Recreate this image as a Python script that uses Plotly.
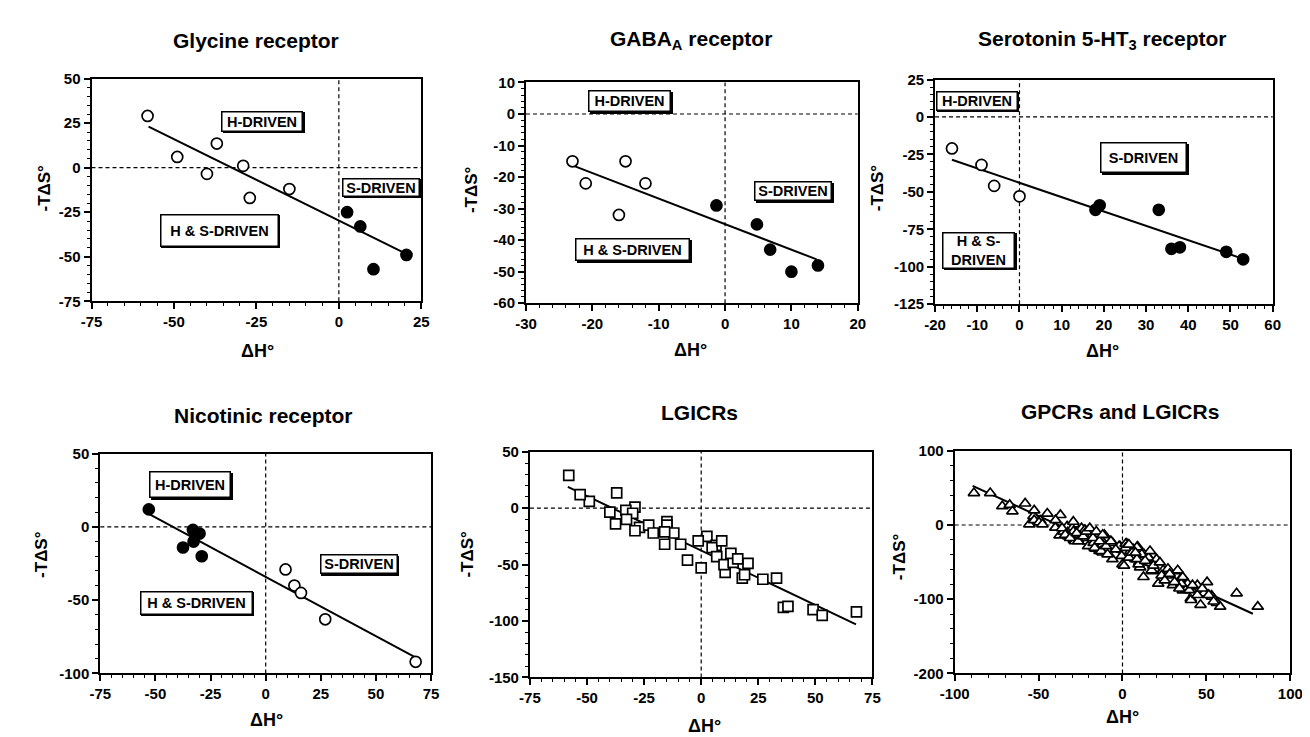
import plotly.graph_objects as go

# ---------------- data ----------------
# Glycine receptor
gly_open_x = [-58, -49, -40, -37, -29, -27, -15]
gly_open_y = [29, 6, -3.5, 13.5, 1, -17, -12]
gly_fill_x = [2.5, 6.5, 10.5, 20.5]
gly_fill_y = [-25, -33, -57, -49]
gly_fit_x = [-57.7, 20.6]
gly_fit_y = [23, -48.5]

# GABA_A receptor
gaba_open_x = [-23, -21, -16, -15, -12]
gaba_open_y = [-15, -22, -32, -15, -22]
gaba_fill_x = [-1.3, 4.8, 6.8, 10, 14]
gaba_fill_y = [-29, -35, -43, -50, -48]
gaba_fit_x = [-23, 13.8]
gaba_fit_y = [-16.3, -46.1]

# Serotonin 5-HT3 receptor
ht3_open_x = [-16, -9, -6, 0]
ht3_open_y = [-21, -32, -46, -53]
ht3_fill_x = [18, 19, 33, 36, 38, 49, 53]
ht3_fill_y = [-62, -59, -62, -88, -87, -90, -95]
ht3_fit_x = [-16, 53]
ht3_fit_y = [-28.6, -94.7]

# Nicotinic receptor
nic_fill_x = [-53, -37.5, -33, -30, -32.7, -29]
nic_fill_y = [12, -14, -2, -4.5, -10, -20]
nic_open_x = [9, 13, 16, 27, 68]
nic_open_y = [-29, -40, -45, -63, -92]
nic_fit_x = [-53, 67.7]
nic_fit_y = [8.9, -88.9]

# LGICRs (all four receptor sets)
lgic_x = gly_open_x + gly_fill_x + gaba_open_x + gaba_fill_x + ht3_open_x + ht3_fill_x + nic_fill_x + nic_open_x
lgic_y = gly_open_y + gly_fill_y + gaba_open_y + gaba_fill_y + ht3_open_y + ht3_fill_y + nic_fill_y + nic_open_y
lgic_fit_x = [-58.4, 67.8]
lgic_fit_y = [18.8, -103]

# GPCRs (additional points in last panel)
gpcr_x = [-88.5, -78.8, -71.6, -67.2, -65.6, -52.6, -55.5, -52.6, -49.7, -47.7, -44.8, -35.1, -32.2,
          -29.3, -28.3, -25.4, -24.4, -22.4, -21.5, -20.5, -18.5, -17.2, -13.7, -11.8, -10.8, -8.9,
          -5.9, -2.0, 0.9, 1.9, 4.8, 7.7, 5.7, 8.6, 9.6, 11.5, 12.5, 15.5, 17.4, 20.3, 21.3, 24.2,
          26.1, 27.1, 30.0, 32.9, 34.9, 38.8, 40.7, 42.7, 44.6, 46.5, 48.5, 50.4, 53.4, 56.3, 58.2,
          80.6, -11.8, 23.3, 35.0, 40.8,
          -39.9, -36.0, -34.1, -31.2, -29.3, -27.3, -26.4, -23.4, -21.5, -19.5, -17.6, -16.6, -15.6,
          -13.7, -12.7, -11.8, -9.8, -8.9, -6.9, -4.0, -0.5, 1.9, 3.8, 5.7, 8.6,
          3.8, 7.7, 13.5, 16.4, 18.4, 22.3, 25.2, 28.1, 31.0, 33.9, 35.9, 39.8, 41.7, 44.6, 47.5,
          51.4, 54.3]
gpcr_y = [43, 43, 25.4, 27, 18.4, 19.7, 0.9, 6.6, 3.5, 0.9, 15.4, -8.8, -15.4,
          -8.8, -21.9, -13.2, -4.4, -6.6, -17.5, -28.5, -8.8, -24.1, -35, -26.3, -13.2, -32.9,
          -24.1, -28.5, -54.8, -25.4, -41.7, -46, -44, -30, -53, -39.5, -70, -44, -61, -46, -79, -61,
          -68, -59, -81, -61, -72, -79, -99, -92, -81, -107.5, -92, -77, -96.5, -105, -110,
          -110, -37, -68, -79, -101,
          6.6, -4.4, -13.2, -17.5, 4.4, -11, -21.9, -15.4, -8.8, -4.4, -17.5, -30.7, -8.8,
          -21.9, -35.1, -13.2, -28.5, -39.5, -21.9, -32.9, -41.7, -30.7, -43.9, -37.3, -46,
          -26.3, -37.3, -48.2, -35.1, -54.8, -50.4, -74.6, -65.8, -76.8, -85.5, -70.2, -87.7, -81.1, -94.3, -85.5,
          -94.3, -103]
all_x = lgic_x + gpcr_x
all_y = lgic_y + gpcr_y
all_fit_x = [-89.3, 77.7]
all_fit_y = [52.7, -119.5]

# tick labels
gly_xt = [-75, -50, -25, 0, 25];  gly_yt = [-75, -50, -25, 0, 25, 50]
gaba_xt = [-30, -20, -10, 0, 10, 20];  gaba_yt = [-60, -50, -40, -30, -20, -10, 0, 10]
ht3_xt = [-20, -10, 0, 10, 20, 30, 40, 50, 60];  ht3_yt = [-125, -100, -75, -50, -25, 0, 25]
nic_xt = [-75, -50, -25, 0, 25, 50, 75];  nic_yt = [-100, -50, 0, 50]
lgic_xt = [-75, -50, -25, 0, 25, 50, 75];  lgic_yt = [-150, -100, -50, 0, 50]
all_xt = [-100, -50, 0, 50, 100];  all_yt = [-200, -100, 0, 100]

titles = ["Glycine receptor", "GABA<sub>A</sub> receptor", "Serotonin 5-HT<sub>3</sub> receptor",
          "Nicotinic receptor", "LGICRs", "GPCRs and LGICRs"]
x_title = "ΔH°"
y_title = "-TΔS°"

# ---------------- layout helpers ----------------
W, H = 1310, 737
F = "Liberation Sans, Arial, sans-serif"

def px(x):
    return x / W

def py(y):
    return 1 - y / H

def xr(i):
    return "x" if i == 1 else f"x{i}"

def yr(i):
    return "y" if i == 1 else f"y{i}"

# frame boxes in pixels: (left, top, right, bottom)
frames = [(70, 63, 407, 291), (514, 67, 853, 293), (932, 64, 1277, 294),
          (79, 447, 417, 672), (518, 445, 868, 676), (952, 444, 1295, 672)]
xranges = [[-75, 25], [-30, 20], [-20, 60], [-75, 75], [-75, 75], [-100, 100]]
yranges = [[-75, 50], [-60, 10], [-125, 25], [-100, 50], [-150, 50], [-200, 100]]
xticks = [gly_xt, gaba_xt, ht3_xt, nic_xt, lgic_xt, all_xt]
yticks = [gly_yt, gaba_yt, ht3_yt, nic_yt, lgic_yt, all_yt]
xminor = [5, 2, 2, 5, 5, 10]
yminor = [5, 2, 5, 10, 10, 20]
title_pos = [(238, 24), (683, 24), (1103, 24), (246, 408), (691, 405), (1121, 404)]
xtitle_pos = [(240, 342), (682, 341), (1103, 342), (249, 720), (696, 726), (1124, 717)]
ytitle_pos = [(22, 175), (459, 177), (874, 175), (19, 550), (454, 550), (895, 552)]

fig = go.Figure()

def add_line(i, xs, ys):
    fig.add_trace(go.Scatter(x=xs, y=ys, mode="lines", line=dict(color="black", width=2),
                             xaxis=xr(i), yaxis=yr(i), showlegend=False, hoverinfo="skip"))

def add_pts(i, xs, ys, symbol, fill, size=10):
    fig.add_trace(go.Scatter(x=xs, y=ys, mode="markers",
                             marker=dict(symbol=symbol, size=size, color=fill,
                                         line=dict(color="black", width=1.7)),
                             xaxis=xr(i), yaxis=yr(i), showlegend=False))

add_line(1, gly_fit_x, gly_fit_y)
add_pts(1, gly_open_x, gly_open_y, "circle", "white", 11)
add_pts(1, gly_fill_x, gly_fill_y, "circle", "black", 11)

add_line(2, gaba_fit_x, gaba_fit_y)
add_pts(2, gaba_open_x, gaba_open_y, "circle", "white", 11)
add_pts(2, gaba_fill_x, gaba_fill_y, "circle", "black", 11)

add_line(3, ht3_fit_x, ht3_fit_y)
add_pts(3, ht3_open_x, ht3_open_y, "circle", "white", 11)
add_pts(3, ht3_fill_x, ht3_fill_y, "circle", "black", 11)

add_line(4, nic_fit_x, nic_fit_y)
add_pts(4, nic_fill_x, nic_fill_y, "circle", "black", 11)
add_pts(4, nic_open_x, nic_open_y, "circle", "white", 11)

add_line(5, lgic_fit_x, lgic_fit_y)
add_pts(5, lgic_x, lgic_y, "square", "white", 10)

add_line(6, all_fit_x, all_fit_y)
add_pts(6, all_x, all_y, "triangle-up", "white", 10)

layout = dict(width=W, height=H, margin=dict(l=0, r=0, t=0, b=0),
              paper_bgcolor="white", plot_bgcolor="white", showlegend=False,
              font=dict(family=F, color="black"))
shapes = []
annotations = []
tfont = dict(family=F, size=15, color="black", weight="bold")
for k in range(6):
    i = k + 1
    l, t, r, b = frames[k]
    ax = dict(domain=[px(l), px(r)], range=xranges[k], anchor=yr(i),
              tickmode="array", tickvals=xticks[k], ticktext=[str(v) for v in xticks[k]],
              ticks="outside", ticklen=6, tickwidth=1.6, tickcolor="black",
              showline=True, linecolor="black", linewidth=2, mirror=True,
              showgrid=False, zeroline=False, tickfont=tfont,
              minor=dict(tick0=xranges[k][0], dtick=xminor[k], ticks="outside", ticklen=3,
                         tickwidth=1.3, tickcolor="black", showgrid=False))
    ay = dict(domain=[py(b), py(t)], range=yranges[k], anchor=xr(i),
              tickmode="array", tickvals=yticks[k], ticktext=[str(v) for v in yticks[k]],
              ticks="outside", ticklen=6, tickwidth=1.6, tickcolor="black",
              showline=True, linecolor="black", linewidth=2, mirror=True,
              showgrid=False, zeroline=False, tickfont=tfont,
              minor=dict(tick0=yranges[k][0], dtick=yminor[k], ticks="outside", ticklen=3,
                         tickwidth=1.3, tickcolor="black", showgrid=False))
    layout["xaxis" if i == 1 else f"xaxis{i}"] = ax
    layout["yaxis" if i == 1 else f"yaxis{i}"] = ay
    # dashed zero lines
    shapes.append(dict(type="line", xref=xr(i), yref=yr(i) + " domain", x0=0, x1=0, y0=0, y1=1,
                       line=dict(color="black", width=1.2, dash="4px,3px"), layer="below"))
    shapes.append(dict(type="line", xref=xr(i) + " domain", yref=yr(i), x0=0, x1=1, y0=0, y1=0,
                       line=dict(color="black", width=1.2, dash="4px,3px"), layer="below"))
    tx, ty = title_pos[k]
    annotations.append(dict(text=f"<b>{titles[k]}</b>", x=px(tx), y=py(ty), xref="paper", yref="paper",
                            showarrow=False, font=dict(family=F, size=21, color="black"),
                            xanchor="center", yanchor="middle"))
    tx, ty = xtitle_pos[k]
    annotations.append(dict(text=f"<b>{x_title}</b>", x=px(tx), y=py(ty), xref="paper", yref="paper",
                            showarrow=False, font=dict(family=F, size=18, color="black"),
                            xanchor="center", yanchor="middle"))
    tx, ty = ytitle_pos[k]
    annotations.append(dict(text=f"<b>{y_title}</b>", x=px(tx), y=py(ty), xref="paper", yref="paper",
                            showarrow=False, font=dict(family=F, size=17, color="black"),
                            textangle=-90, xanchor="center", yanchor="middle"))

# region label boxes: (panel, text, x, y, width, height)
boxes = [
    (1, "H-DRIVEN", -23.3, 26, 82, 21), (1, "H & S-DRIVEN", -36.2, -35.2, 119, 33),
    (1, "S-DRIVEN", 12.9, -10.9, 78, 19),
    (2, "H-DRIVEN", -14.4, 4.1, 83, 22), (2, "S-DRIVEN", 10.3, -24.5, 78, 20),
    (2, "H & S-DRIVEN", -13.9, -43, 115, 23),
    (3, "H-DRIVEN", -10.1, 10.8, 82, 20), (3, "S-DRIVEN", 29.5, -27.1, 87, 31),
    (3, "H & S-<br>DRIVEN", -9.7, -88.9, 73, 37),
    (4, "H-DRIVEN", -34.2, 28.9, 82, 27), (4, "S-DRIVEN", 42.2, -25.6, 78, 20),
    (4, "H & S-DRIVEN", -31.5, -51.6, 113, 24),
]
for (i, txt, x, y, w, h) in boxes:
    # drop shadow
    annotations.append(dict(text=f"<b>{txt}</b>", x=x, y=y, xref=xr(i), yref=yr(i),
                            showarrow=False, font=dict(family=F, size=14.5, color="black"),
                            bgcolor="black", bordercolor="black", borderwidth=1.5, borderpad=1,
                            width=w - 5, height=h - 5, xshift=1.5, yshift=-1.5,
                            align="center", valign="middle"))
    annotations.append(dict(text=f"<b>{txt}</b>", x=x, y=y, xref=xr(i), yref=yr(i),
                            showarrow=False, font=dict(family=F, size=14.5, color="black"),
                            bgcolor="white", bordercolor="black", borderwidth=1.5, borderpad=1,
                            width=w - 5, height=h - 5, align="center", valign="middle"))

layout["shapes"] = shapes
layout["annotations"] = annotations
fig.update_layout(**layout)
fig.write_html("out.html")
